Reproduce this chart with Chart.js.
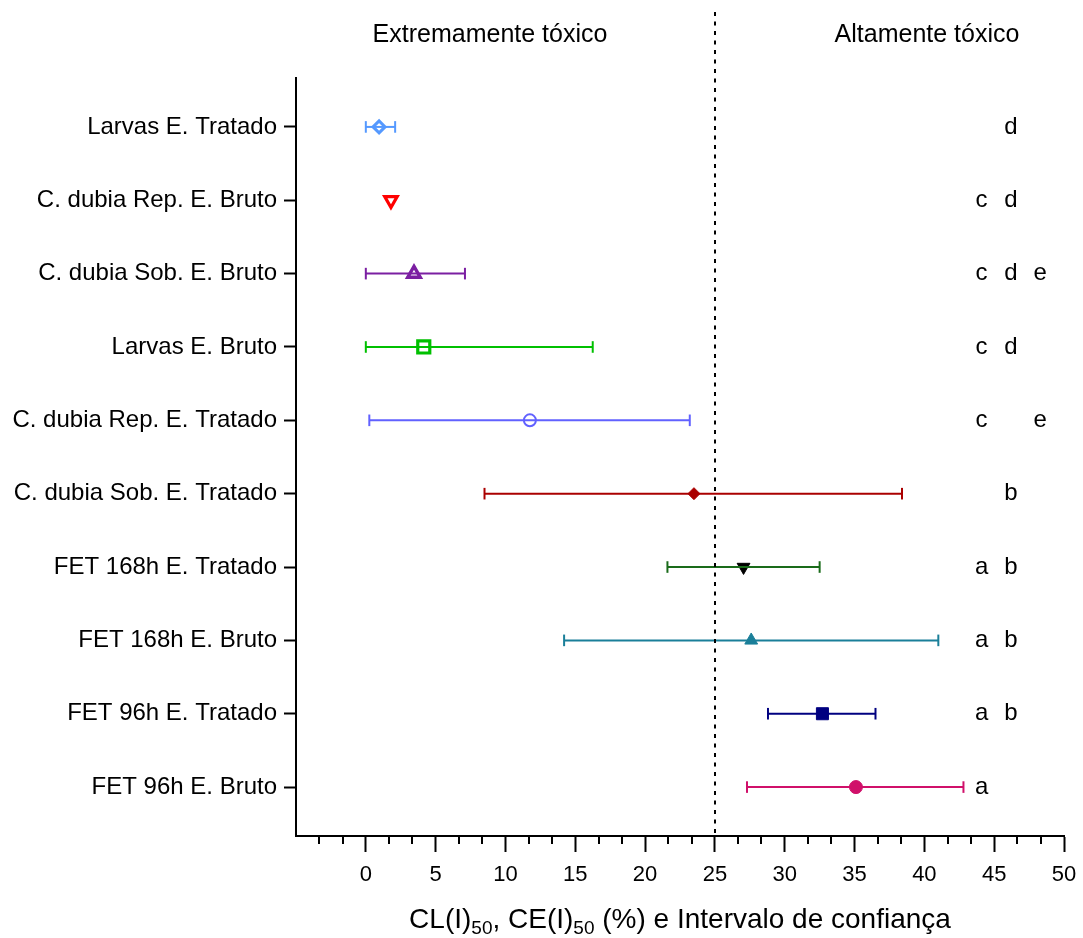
<!DOCTYPE html>
<html><head><meta charset="utf-8">
<script src="https://cdn.jsdelivr.net/npm/chart.js@4"></script>
<style>html,body{margin:0;padding:0;background:#fff}#wrap{width:1083px;height:938px}</style>
</head><body><div id="wrap"><canvas id="c" width="1083" height="938"></canvas></div>
<script>
// ---- data ----
const categories = [
  'Larvas E. Tratado',
  'C. dubia Rep. E. Bruto',
  'C. dubia Sob. E. Bruto',
  'Larvas E. Bruto',
  'C. dubia Rep. E. Tratado',
  'C. dubia Sob. E. Tratado',
  'FET 168h E. Tratado',
  'FET 168h E. Bruto',
  'FET 96h E. Tratado',
  'FET 96h E. Bruto'
];
const ecValues = [0.95, 1.8, 3.45, 4.15, 11.75, 23.5, 27.05, 27.6, 32.7, 35.1];
const lowerCI  = [0.0, null, 0.0, 0.0, 0.25, 8.5, 21.6, 14.2, 28.8, 27.3];
const upperCI  = [2.1, null, 7.1, 16.25, 23.2, 38.4, 32.5, 41.0, 36.5, 42.8];
const groupLetters = [
  ['', 'd', ''],
  ['c', 'd', ''],
  ['c', 'd', 'e'],
  ['c', 'd', ''],
  ['c', '', 'e'],
  ['', 'b', ''],
  ['a', 'b', ''],
  ['a', 'b', ''],
  ['a', 'b', ''],
  ['a', '', '']
];
const xTickValues = [0, 5, 10, 15, 20, 25, 30, 35, 40, 45, 50];
const zoneLabels = ['Extremamente tóxico', 'Altamente tóxico'];
const thresholdValue = 25;

// ---- styles ----
const FONT = '"Liberation Sans", Arial, Helvetica, sans-serif';
const lineColors = ['#5599ff', '#ff0000', '#7b1fa2', '#00c000', '#6161ff', '#aa0000', '#1a6b1a', '#1a7f99', '#000080', '#d0106a'];
const markerFill = ['#ffffff', '#ffffff', '#ffffff', '#ffffff', '#ffffff', '#aa0000', '#000000', '#1a7f99', '#000080', '#d0106a'];
const markerBorder = ['#5599ff', '#ff0000', '#7b1fa2', '#00c000', '#6161ff', '#aa0000', '#000000', '#1a7f99', '#000080', '#d0106a'];
const markerStyle = ['rectRot', 'triangle', 'triangle', 'rect', 'circle', 'rectRot', 'triangle', 'triangle', 'rect', 'circle'];
const markerRadius = [6, 7.2, 7.2, 8.5, 6, 6, 7.4, 7.4, 8.5, 6.5];
const markerBW = [3, 3.2, 3.4, 3.2, 2, 1, 1, 1, 1, 1];
const markerRot = [0, 180, 0, 0, 0, 0, 180, 0, 0, 0];
const letterCols = [44.1, 46.2, 48.3];

const datasets = [];
categories.forEach((c, i) => {
  if (lowerCI[i] === null) return;
  datasets.push({
    data: [{x: lowerCI[i], y: i}, {x: upperCI[i], y: i}],
    showLine: true,
    borderColor: lineColors[i],
    borderWidth: 2,
    pointStyle: 'line',
    pointRotation: 90,
    pointRadius: 5.8,
    pointHoverRadius: 5.8,
    pointBorderColor: lineColors[i],
    pointBorderWidth: 2,
    fill: false
  });
});
datasets.push({
  data: ecValues.map((v, i) => ({x: v, y: i})),
  showLine: false,
  pointStyle: markerStyle,
  pointRadius: markerRadius,
  pointHoverRadius: markerRadius,
  pointBorderWidth: markerBW,
  pointBackgroundColor: markerFill,
  pointBorderColor: markerBorder,
  pointRotation: markerRot
});

const decorPlugin = {
  id: 'decor',
  afterDatasetsDraw(chart) {
    const ctx = chart.ctx, xs = chart.scales.x, ca = chart.chartArea;
    ctx.save();
    ctx.strokeStyle = '#000';
    ctx.lineWidth = 2;
    ctx.setLineDash([4, 5.5]);
    const tx = Math.round(xs.getPixelForValue(thresholdValue));
    ctx.beginPath();
    ctx.moveTo(tx, 12);
    ctx.lineTo(tx, ca.bottom);
    ctx.stroke();
    ctx.restore();
  },
  afterDraw(chart) {
    const ctx = chart.ctx, xs = chart.scales.x, ys = chart.scales.y, ca = chart.chartArea;
    ctx.save();
    // minor ticks
    ctx.strokeStyle = '#000';
    ctx.lineWidth = 2;
    for (let k = 1; k < 33; k++) {
      if (k % 3 === 0) continue;
      const v = -5 + k * 5 / 3;
      const px = Math.round(xs.getPixelForValue(v));
      ctx.beginPath();
      ctx.moveTo(px, ca.bottom);
      ctx.lineTo(px, ca.bottom + 8);
      ctx.stroke();
    }
    // group letters
    ctx.fillStyle = '#000';
    ctx.font = '24px ' + FONT;
    ctx.textAlign = 'center';
    ctx.textBaseline = 'middle';
    groupLetters.forEach((row, i) => {
      const py = ys.getPixelForValue(i);
      row.forEach((l, j) => {
        if (l) ctx.fillText(l, xs.getPixelForValue(letterCols[j]), py);
      });
    });
    // zone labels
    ctx.font = '25px ' + FONT;
    ctx.fillText(zoneLabels[0], 490, 35);
    ctx.fillText(zoneLabels[1], 927, 35);
    // axis title with subscripts
    const parts = [
      {t: 'CL(I)', s: false}, {t: '50', s: true},
      {t: ', CE(I)', s: false}, {t: '50', s: true},
      {t: ' (%) e Intervalo de confiança', s: false}
    ];
    const mainF = '28px ' + FONT, subF = '19px ' + FONT;
    let total = 0;
    parts.forEach(p => { ctx.font = p.s ? subF : mainF; p.w = ctx.measureText(p.t).width; total += p.w; });
    let x = (ca.left + ca.right) / 2 - total / 2;
    const base = 928;
    ctx.textAlign = 'left';
    ctx.textBaseline = 'alphabetic';
    parts.forEach(p => {
      ctx.font = p.s ? subF : mainF;
      ctx.fillText(p.t, x, p.s ? base + 6 : base);
      x += p.w;
    });
    ctx.restore();
  }
};

new Chart(document.getElementById('c'), {
  type: 'scatter',
  data: {datasets},
  options: {
    responsive: false,
    animation: false,
    events: [],
    layout: {padding: {top: 78, right: 19, left: 0, bottom: 0}},
    plugins: {legend: {display: false}, tooltip: {enabled: false}},
    scales: {
      x: {
        type: 'linear',
        min: -5, max: 50,
        afterBuildTicks: s => { s.ticks = xTickValues.map(v => ({value: v})); },
        afterFit: s => { s.height = 102; },
        border: {display: true, color: '#000', width: 2},
        grid: {drawOnChartArea: false, drawTicks: true, tickLength: 16, tickWidth: 2, tickColor: '#000'},
        ticks: {color: '#000', font: {size: 22, family: FONT, lineHeight: 1.7}, padding: 4, maxRotation: 0, autoSkip: false}
      },
      y: {
        type: 'linear',
        reverse: true,
        min: -0.667, max: 9.667,
        afterBuildTicks: s => { s.ticks = categories.map((c, i) => ({value: i})); },
        afterFit: s => { s.width = 296; },
        border: {display: true, color: '#000', width: 2},
        grid: {drawOnChartArea: false, drawTicks: true, tickLength: 12, tickWidth: 2, tickColor: '#000'},
        ticks: {color: '#000', font: {size: 24, family: FONT}, padding: 7, autoSkip: false,
                callback: v => categories[v]}
      }
    }
  },
  plugins: [decorPlugin]
});
</script>
</body></html>
